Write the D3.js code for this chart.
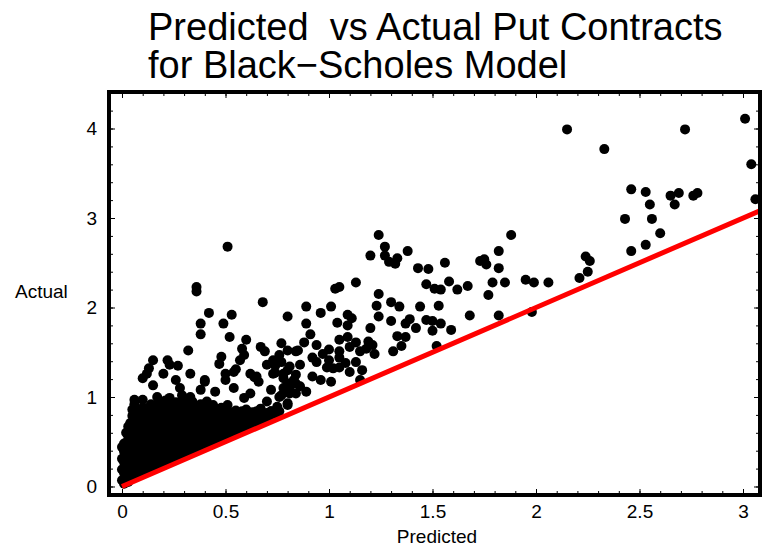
<!DOCTYPE html>
<html>
<head>
<meta charset="utf-8">
<script src="https://cdn.jsdelivr.net/npm/d3@7/dist/d3.min.js"></script>
<style>
  body { margin: 0; background: #fff; }
  text { font-family: "Liberation Sans", Arial, sans-serif; }
</style>
</head>
<body>
<div id="wrapper"></div>
<script>
// tick labels
const xTicks = [0, 0.5, 1, 1.5, 2, 2.5, 3]
const yTicks = [0, 1, 2, 3, 4]

// [predicted, actual], grouped by area
const highPoints = [
  [2.15,3.99],[2.33,3.77],[3.01,4.11],[2.72,3.99],[3.04,3.60],[3.06,3.21],[2.46,3.32],[2.53,3.29],
  [2.55,3.15],[2.65,3.25],[2.69,3.28],[2.67,3.15],[2.76,3.25],[2.78,3.28],[2.43,2.99],[2.56,2.99],
  [2.60,2.83],[2.53,2.70],[2.46,2.63],[2.24,2.57],[2.26,2.52],[2.25,2.40],[2.21,2.33],[1.98,1.95]
]

const midPoints = [
  [1.24,2.81],[1.27,2.68],[1.20,2.58],[1.27,2.58],[1.29,2.51],[1.33,2.55],[1.32,2.49],[1.38,2.63],
  [1.43,2.44],[1.48,2.43],[1.56,2.50],[1.88,2.81],[1.82,2.63],[1.73,2.52],[1.75,2.54],[1.76,2.48],
  [1.82,2.44],[1.03,2.21],[1.05,2.23],[1.13,2.28],[1.47,2.26],[1.51,2.21],[1.54,2.20],[1.58,2.29],
  [1.62,2.20],[1.67,2.24],[1.79,2.28],[1.85,2.28],[1.95,2.31],[1.99,2.28],[2.06,2.28],[1.77,2.14],
  [1.24,2.15],[1.23,2.02],[1.30,2.06],[1.34,2.01],[1.44,2.01],[1.53,2.02],[1.68,1.91],[1.82,1.91],
  [0.89,2.01],[1.01,2.01],[0.80,1.90],[0.96,1.94],[0.89,1.82],[1.04,1.83],[1.09,1.92],[1.11,1.88],
  [1.09,1.80],[1.24,1.90],[1.30,1.85],[1.20,1.77],[1.37,1.82],[1.39,1.87],[1.42,1.77],[1.47,1.86],
  [1.50,1.85],[1.54,1.82],[1.50,1.74],[1.59,1.75],[0.91,1.70],[1.33,1.68],[1.37,1.67],[1.35,1.57],
  [1.31,1.51],[1.52,1.57],[0.88,1.61],[0.77,1.60],[0.94,1.58],[0.80,1.52],[0.85,1.52],[0.92,1.44],
  [1.00,1.53],[1.05,1.64],[1.09,1.67],[1.13,1.61],[1.10,1.56],[1.19,1.62],[1.21,1.58],[1.18,1.54],
  [1.22,1.48],[1.15,1.51],[1.05,1.51],[0.97,1.48],[0.94,1.39],[1.00,1.41],[1.05,1.44],[1.08,1.38],
  [1.13,1.39],[0.99,1.33],[1.02,1.32],[1.05,1.33],[1.10,1.28],[1.16,1.30],[1.15,1.19],[0.86,1.36],
  [0.80,1.30],[0.92,1.23],[0.96,1.19],[1.01,1.17],[0.89,1.06],[0.83,1.19],[0.78,1.21],[0.81,1.10],
  [0.80,0.91],[0.77,1.39],[0.81,1.34],[0.84,1.25],[0.80,1.15],[0.86,1.12],[0.84,1.04],[0.77,1.02]
]

const lowPoints = [
  [0.51,2.68],[0.36,2.23],[0.36,2.18],[0.68,2.06],[0.42,1.94],[0.53,1.92],[0.38,1.82],[0.49,1.82],
  [0.38,1.70],[0.52,1.67],[0.60,1.64],[0.32,1.52],[0.58,1.54],[0.59,1.47],[0.67,1.56],[0.69,1.51],
  [0.76,1.47],[0.73,1.41],[0.70,1.36],[0.74,1.35],[0.48,1.45],[0.47,1.37],[0.57,1.41],[0.55,1.31],
  [0.15,1.41],[0.13,1.32],[0.22,1.41],[0.23,1.36],[0.27,1.35],[0.33,1.26],[0.10,1.21],[0.20,1.26],
  [0.40,1.19],[0.50,1.26],[0.62,1.26],[0.65,1.23],[0.73,1.26],[0.78,1.26],[0.84,1.51],[0.12,1.26],
  [0.26,1.19],[0.28,1.10],[0.29,1.02],[0.15,1.13],[0.06,0.97],[0.10,0.97],[0.17,1.00],[0.74,1.27],
  [0.54,1.28],[0.64,1.22],[0.66,1.17],[0.50,1.19],[0.40,1.17],[0.38,1.08],[0.45,1.06],[0.54,1.10],
  [0.59,0.99],[0.62,1.04],[0.72,1.08],[0.78,1.10],[0.81,1.04],[0.76,1.00],[0.84,1.15],[0.70,0.95],
  [0.75,0.89],[0.80,0.93],[0.67,0.87],[0.62,0.82],[0.55,0.85],[0.51,0.91],[0.44,0.91],[0.41,0.95],
  [0.39,0.85],[0.46,0.78],[0.54,0.74],[0.59,0.71],[0.68,0.78],[0.72,0.84],[0.51,0.65],[0.41,0.67],
  [0.44,0.59],[0.39,0.48]
]

const clusterPoints = [
  [0.01,0.03],[0.00,0.07],[0.02,0.11],[0.01,0.15],[0.00,0.19],[0.02,0.23],[0.01,0.27],[0.00,0.31],
  [0.02,0.35],[0.01,0.39],[0.00,0.44],[0.01,0.48],
  [0.04,0.09],[0.03,0.14],[0.05,0.19],[0.04,0.25],[0.03,0.31],[0.05,0.37],[0.04,0.43],[0.03,0.50],
  [0.05,0.56],[0.04,0.63],[0.04,0.71],[0.05,0.79],
  [0.07,0.13],[0.08,0.19],[0.07,0.26],[0.08,0.33],[0.07,0.40],[0.08,0.47],[0.07,0.54],[0.08,0.61],
  [0.07,0.68],[0.08,0.75],[0.07,0.83],[0.06,0.92],
  [0.11,0.17],[0.12,0.24],[0.11,0.31],[0.12,0.38],[0.11,0.45],[0.12,0.52],[0.11,0.59],[0.12,0.66],
  [0.11,0.73],[0.12,0.80],[0.10,0.88],
  [0.15,0.21],[0.16,0.28],[0.15,0.35],[0.16,0.42],[0.15,0.49],[0.16,0.56],[0.15,0.63],[0.16,0.70],
  [0.15,0.77],[0.16,0.84],[0.14,0.92],
  [0.19,0.25],[0.20,0.32],[0.19,0.39],[0.20,0.46],[0.19,0.53],[0.20,0.60],[0.19,0.67],[0.20,0.74],
  [0.19,0.81],[0.20,0.88],[0.19,0.95],
  [0.23,0.29],[0.24,0.36],[0.23,0.43],[0.24,0.50],[0.23,0.57],[0.24,0.64],[0.23,0.71],[0.24,0.78],
  [0.23,0.85],[0.24,0.92],[0.23,0.99],
  [0.27,0.33],[0.28,0.40],[0.27,0.47],[0.28,0.54],[0.27,0.61],[0.28,0.68],[0.27,0.75],[0.28,0.82],
  [0.27,0.89],[0.29,0.95],
  [0.31,0.37],[0.32,0.44],[0.31,0.51],[0.32,0.58],[0.31,0.65],[0.32,0.72],[0.31,0.79],[0.32,0.86],
  [0.31,0.93],[0.33,1.00],
  [0.35,0.41],[0.36,0.48],[0.35,0.55],[0.36,0.62],[0.35,0.69],[0.36,0.76],[0.35,0.83],[0.36,0.90],
  [0.39,0.45],[0.40,0.52],[0.39,0.59],[0.40,0.66],[0.39,0.73],[0.40,0.80],[0.39,0.87],
  [0.43,0.49],[0.44,0.56],[0.43,0.63],[0.44,0.70],[0.43,0.77],[0.44,0.84],
  [0.47,0.53],[0.48,0.60],[0.47,0.67],[0.48,0.74],[0.47,0.81],[0.48,0.88],
  [0.51,0.57],[0.52,0.64],[0.51,0.71],[0.52,0.78],[0.51,0.85],
  [0.55,0.61],[0.56,0.68],[0.55,0.75],[0.56,0.82],
  [0.59,0.65],[0.60,0.72],[0.59,0.79],[0.60,0.86],
  [0.63,0.69],[0.64,0.76],[0.63,0.83],
  [0.67,0.73],[0.68,0.80],
  [0.71,0.77],[0.72,0.84]
]

// the points that sit between the ones above in the dense corner
const clusterFill = [
  [0.03,0.05],[0.02,0.12],[0.03,0.17],[0.02,0.22],[0.03,0.28],[0.02,0.34],[0.03,0.40],[0.02,0.46],
  [0.03,0.53],[0.02,0.60],[0.03,0.67],
  [0.06,0.11],[0.06,0.16],[0.06,0.22],[0.06,0.29],[0.05,0.34],[0.06,0.40],[0.05,0.47],[0.06,0.53],
  [0.06,0.59],[0.05,0.66],[0.06,0.72],[0.06,0.79],[0.05,0.86],
  [0.09,0.15],[0.10,0.22],[0.09,0.29],[0.10,0.36],[0.09,0.43],[0.10,0.50],[0.09,0.57],[0.10,0.64],
  [0.09,0.71],[0.10,0.78],[0.09,0.84],
  [0.13,0.19],[0.14,0.26],[0.13,0.33],[0.14,0.40],[0.13,0.47],[0.14,0.54],[0.13,0.61],[0.14,0.68],
  [0.13,0.75],[0.14,0.82],[0.13,0.88],
  [0.17,0.24],[0.18,0.30],[0.17,0.37],[0.18,0.44],[0.17,0.51],[0.18,0.58],[0.17,0.65],[0.18,0.72],
  [0.17,0.79],[0.18,0.86],[0.17,0.92],
  [0.21,0.28],[0.22,0.34],[0.21,0.41],[0.22,0.48],[0.21,0.55],[0.22,0.62],[0.21,0.69],[0.22,0.76],
  [0.21,0.83],[0.22,0.90],[0.21,0.96],
  [0.25,0.32],[0.26,0.38],[0.25,0.45],[0.26,0.52],[0.25,0.59],[0.26,0.66],[0.25,0.73],[0.26,0.80],
  [0.25,0.87],[0.26,0.94],
  [0.29,0.36],[0.30,0.42],[0.29,0.49],[0.30,0.56],[0.29,0.63],[0.30,0.70],[0.29,0.77],[0.30,0.84],
  [0.29,0.90],
  [0.33,0.40],[0.34,0.46],[0.33,0.53],[0.34,0.60],[0.33,0.67],[0.34,0.74],[0.33,0.81],[0.34,0.88],
  [0.34,0.95],
  [0.37,0.44],[0.38,0.50],[0.37,0.57],[0.38,0.64],[0.37,0.71],[0.38,0.78],[0.37,0.85],[0.38,0.92],
  [0.41,0.48],[0.42,0.54],[0.41,0.61],[0.42,0.68],[0.41,0.75],[0.42,0.82],[0.41,0.88],
  [0.45,0.52],[0.46,0.58],[0.45,0.65],[0.46,0.72],[0.45,0.79],[0.46,0.86],
  [0.49,0.56],[0.50,0.62],[0.49,0.69],[0.50,0.76],[0.49,0.83],
  [0.53,0.60],[0.54,0.66],[0.53,0.73],[0.54,0.80],
  [0.57,0.64],[0.58,0.70],[0.57,0.77],[0.58,0.84],
  [0.61,0.68],[0.62,0.74],[0.61,0.81],
  [0.65,0.72],[0.66,0.78],[0.65,0.84],
  [0.69,0.76],[0.70,0.82],
  [0.74,0.81],[0.76,0.84]
]

const fitLine = [[0, 0], [3.3, 3.3]]

const data = [...clusterPoints, ...clusterFill, ...lowPoints, ...midPoints, ...highPoints]

const width = 762
const height = 550
const frame = { left: 109, right: 760, top: 92, bottom: 495 }

const xScale = d3.scaleLinear()
  .domain([-0.0628, 3.0821])
  .range([frame.left, frame.right])

const yScale = d3.scaleLinear()
  .domain([-0.095, 4.408])
  .range([frame.bottom, frame.top])

const svg = d3.select("#wrapper")
  .append("svg")
  .attr("width", width)
  .attr("height", height)

svg.append("clipPath")
  .attr("id", "clip")
  .append("rect")
  .attr("x", frame.left)
  .attr("y", frame.top)
  .attr("width", frame.right - frame.left)
  .attr("height", frame.bottom - frame.top)

const plot = svg.append("g").attr("clip-path", "url(#clip)")

plot.selectAll("circle")
  .data(data)
  .join("circle")
  .attr("cx", d => xScale(d[0]))
  .attr("cy", d => yScale(d[1]))
  .attr("r", 5)
  .attr("fill", "#000")

const line = d3.line()
  .x(d => xScale(d[0]))
  .y(d => yScale(d[1]))

plot.append("path")
  .attr("d", line(fitLine))
  .attr("fill", "none")
  .attr("stroke", "#ff0000")
  .attr("stroke-width", 5)

// frame ticks, all four sides pointing in
const xMinor = d3.range(0, 3.05, 0.1)
const yMinor = d3.range(0, 4.41, 0.2)
const inset = 2

function ticks(axis, values, size, tx, ty) {
  svg.append("g")
    .attr("transform", `translate(${tx},${ty})`)
    .call(axis.tickValues(values).tickSizeInner(-size).tickSizeOuter(0).tickFormat(""))
    .call(g => g.select(".domain").remove())
    .call(g => g.selectAll("line").attr("stroke", "#000").attr("stroke-width", 1))
}

ticks(d3.axisBottom(xScale), xMinor, 2 + inset, 0, frame.bottom)
ticks(d3.axisBottom(xScale), xTicks, 4 + inset, 0, frame.bottom)
ticks(d3.axisTop(xScale), xMinor, 2 + inset, 0, frame.top)
ticks(d3.axisTop(xScale), xTicks, 4 + inset, 0, frame.top)
ticks(d3.axisLeft(yScale), yMinor, 2 + inset, frame.left, 0)
ticks(d3.axisLeft(yScale), yTicks, 4 + inset, frame.left, 0)
ticks(d3.axisRight(yScale), yMinor, 2 + inset, frame.right, 0)
ticks(d3.axisRight(yScale), yTicks, 4 + inset, frame.right, 0)

svg.append("rect")
  .attr("x", frame.left)
  .attr("y", frame.top)
  .attr("width", frame.right - frame.left)
  .attr("height", frame.bottom - frame.top)
  .attr("fill", "none")
  .attr("stroke", "#000")
  .attr("stroke-width", 4)

// tick labels
const xLabels = svg.append("g")
  .attr("transform", `translate(0,${frame.bottom})`)
  .call(d3.axisBottom(xScale).tickValues(xTicks).tickSize(0).tickPadding(10).tickFormat(d => d))
xLabels.select(".domain").remove()
xLabels.selectAll("text").attr("font-size", 19).attr("font-family", "Liberation Sans, Arial, sans-serif").attr("fill", "#000")

const yLabels = svg.append("g")
  .attr("transform", `translate(${frame.left},0)`)
  .call(d3.axisLeft(yScale).tickValues(yTicks).tickSize(0).tickPadding(12).tickFormat(d => d))
yLabels.select(".domain").remove()
yLabels.selectAll("text").attr("font-size", 19).attr("font-family", "Liberation Sans, Arial, sans-serif").attr("fill", "#000")

// axis titles
svg.append("text")
  .attr("x", 437)
  .attr("y", 543)
  .attr("text-anchor", "middle")
  .attr("font-size", 19)
  .text("Predicted")

svg.append("text")
  .attr("x", 15)
  .attr("y", 298)
  .attr("font-size", 19)
  .text("Actual")

// title
const title = svg.append("text")
  .attr("x", 148)
  .attr("font-size", 38)
title.append("tspan").attr("x", 148).attr("y", 40).text("Predicted\u00a0 vs Actual Put Contracts")
title.append("tspan").attr("x", 148).attr("y", 78).text("for Black\u2212Scholes Model")
</script>
</body>
</html>
